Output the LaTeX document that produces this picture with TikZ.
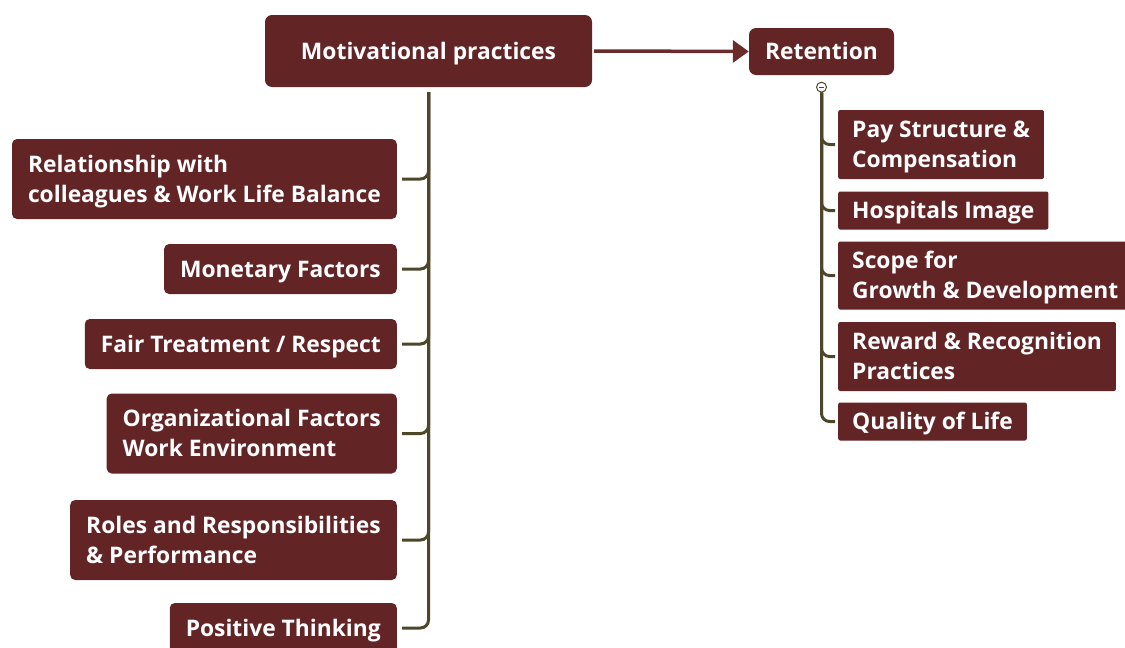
\documentclass[tikz,border=0pt]{standalone}
\usepackage{fontspec}
\setmainfont{Open Sans}
\usetikzlibrary{arrows.meta}
\definecolor{boxred}{HTML}{632426}
\definecolor{arrowred}{HTML}{6A2B2B}
\definecolor{stem}{HTML}{4D4629}
\newcommand{\lcol}{397}
\newcommand{\rcol}{838}
% struts keep the caps centred in the boxes
\newcommand{\boxstrut}{\rule[-7.5pt]{0pt}{31.5pt}}
\newcommand{\tallstrut}{\rule[-7.5pt]{0pt}{61.5pt}}

\begin{document}
\begin{tikzpicture}[x=1pt, y=-1pt,
    box/.style={fill=boxred, text=white, inner ysep=0pt, font=\bfseries\fontsize{22.8}{30}\selectfont, align=left,
        execute at begin node=\boxstrut},
    twoline/.style={execute at begin node=\tallstrut},
    lbox/.style={box, anchor=east, rounded corners=5pt, inner xsep=16pt, minimum height=#1},
    lbox/.default=50pt,
    rbox/.style={box, anchor=west, rounded corners=2pt, inner xsep=14pt, minimum height=#1},
    rbox/.default=38pt,
    branch/.style={draw=stem, line width=3pt, rounded corners=8pt}]
    \useasboundingbox (0,0) rectangle (1125,648);

    % Top row
    \node[box, rounded corners=7pt, align=center, minimum width=327pt, minimum height=72pt] (mp) at (428.5,51) {Motivational practices};
    \node[box, rounded corners=7pt, align=center, minimum width=145pt, minimum height=47pt] (ret) at (821.5,51.5) {Retention};
    \draw[arrowred, line width=3.5pt, -{Triangle[length=16pt,width=22pt]}] ([xshift=2pt]mp.east) -- (ret.west);

    % Left column
    \node[lbox=80pt, twoline] (rel) at (\lcol,179) {Relationship with\\colleagues \& Work Life Balance};
    \node[lbox] (mon) at (\lcol,269) {Monetary Factors};
    \node[lbox] (fair) at (\lcol,344) {Fair Treatment / Respect};
    \node[lbox=80pt, twoline] (org) at (\lcol,433.5) {Organizational Factors\\Work Environment};
    \node[lbox=80pt, twoline] (roles) at (\lcol,540) {Roles and Responsibilities\\\& Performance};
    \node[lbox] (pos) at (\lcol,628) {Positive Thinking};

    \coordinate (mp-root) at ([yshift=-5pt]mp.south);
    \foreach \c in {rel,mon,fair,org,roles,pos}
        \draw[branch] (mp-root) |- ([xshift=5pt]\c.east);

    % Right column
    \node[rbox=69pt, twoline] (pay) at (\rcol,144.5) {Pay Structure \&\\Compensation};
    \node[rbox] (hosp) at (\rcol,210.5) {Hospitals Image};
    \node[rbox=68pt, twoline] (scope) at (\rcol,275.5) {Scope for\\Growth \& Development};
    \node[rbox=69pt, twoline] (reward) at (\rcol,356.5) {Reward \& Recognition\\Practices};
    \node[rbox] (qual) at (\rcol,421.5) {Quality of Life};

    \node[circle, draw=stem, line width=1pt, fill=white, minimum size=10pt, inner sep=0pt] (fold) at ([yshift=-12pt]ret.south) {};
    \draw[stem, line width=0.8pt] ([xshift=-2.5pt]fold.center) -- ([xshift=2.5pt]fold.center);
    \foreach \c in {pay,hosp,scope,reward,qual}
        \draw[branch] (fold.south) |- ([xshift=-3pt]\c.west);

\end{tikzpicture}
\end{document}
